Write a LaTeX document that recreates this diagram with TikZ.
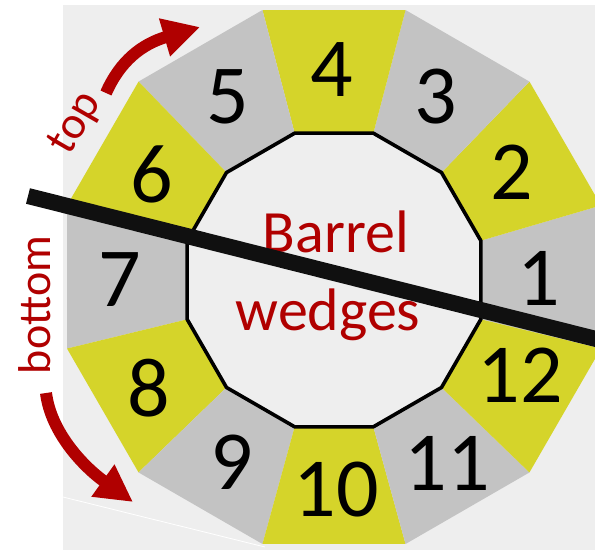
\documentclass[tikz,border=0pt]{standalone}
\usepackage{fontspec}
\setmainfont{Carlito}
\usetikzlibrary{arrows.meta,calc}
\definecolor{wedgeyellow}{RGB}{213,212,42}
\definecolor{wedgegray}{RGB}{195,195,195}
\definecolor{panel}{RGB}{238,238,238}
\definecolor{labelred}{RGB}{176,0,0}
\definecolor{barblack}{RGB}{16,16,16}
\begin{document}
\begin{tikzpicture}[x=1pt,y=-1pt,
  num/.style={font=\fontsize{84}{84}\selectfont, inner sep=0pt, anchor=center, text=black},
  caption/.style={font=\fontsize{60}{60}\selectfont, text=labelred, inner sep=0pt, anchor=base},
  sidelabel/.style={font=\fontsize{46}{46}\selectfont, text=labelred, inner sep=0pt},
  turnarrow/.style={draw=labelred, line width=12pt, -{Triangle[length=37pt,width=37pt]}},
  innerring/.style={fill=panel, draw=black, line width=3.6pt, line join=round}
]
\useasboundingbox (0,0) rectangle (595,550);
\fill[white] (0,0) rectangle (595,550);
\fill[panel] (63,5) rectangle (595,550);
\draw[white, line width=0.8pt] (63,497) -- (265,547);

% centres of the outer and inner dodecagons
\coordinate (O) at (334,277);
\coordinate (I) at (334,280);

% the twelve wedges, odd ones grey, even ones yellow
\foreach \k in {1,...,12} {
  \pgfmathsetmacro\a{-30*(\k-1)}
  \ifodd\k \def\wc{wedgegray}\else\def\wc{wedgeyellow}\fi
  \fill[\wc] ($(O)+(\a-15:276.4)$) -- ($(O)+(\a+15:276.4)$)
     -- ($(I)+(\a+15:152)$) -- ($(I)+(\a-15:152)$) -- cycle;
}

% inner opening
\path[innerring] ($(I)+(15:152)$) \foreach \t in {45,75,...,345} { -- ($(I)+(\t:152)$) } -- cycle;

% wedge numbers
\node[num] (w1)  at (539,278) {1};
\node[num] (w2)  at (512,172) {2};
\node[num] (w3)  at (436,97)  {3};
\node[num] (w4)  at (332,70)  {4};
\node[num] (w5)  at (228,97)  {5};
\node[num] (w6)  at (152,174) {6};
\node[num] (w7)  at (120,280) {7};
\node[num] (w8)  at (149,388) {8};
\node[num] (w9)  at (232,462) {9};
\node[num] (w10) at (336,490) {10};
\node[num] (w11) at (447,463) {11};
\node[num] (w12) at (520,375) {12};

% central caption
\node[caption] (capA) at (336,252) {Barrel};
\node[caption] (capB) at (328,330) {wedges};

% side labels with their turning arrows
\node[sidelabel, rotate=60] (toplbl) at (76,124) {top};
\node[sidelabel, rotate=90, anchor=base] (botlbl) at (50,305) {bottom};
\coordinate (topTail) at (106,93);
\coordinate (topTip) at (200,27);
\draw[turnarrow] (topTail) .. controls (120,61) and (142,44) .. (topTip);
\coordinate (botTail) at (46,393);
\coordinate (botTip) at (133,502);
\draw[turnarrow] (botTail) .. controls (51,433) and (84,467) .. (botTip);

% the dividing bar
\coordinate (barL) at (28,196);
\coordinate (barR) at (612,343);
\draw[barblack, line width=16pt] (barL) -- (barR);
\end{tikzpicture}
\end{document}
